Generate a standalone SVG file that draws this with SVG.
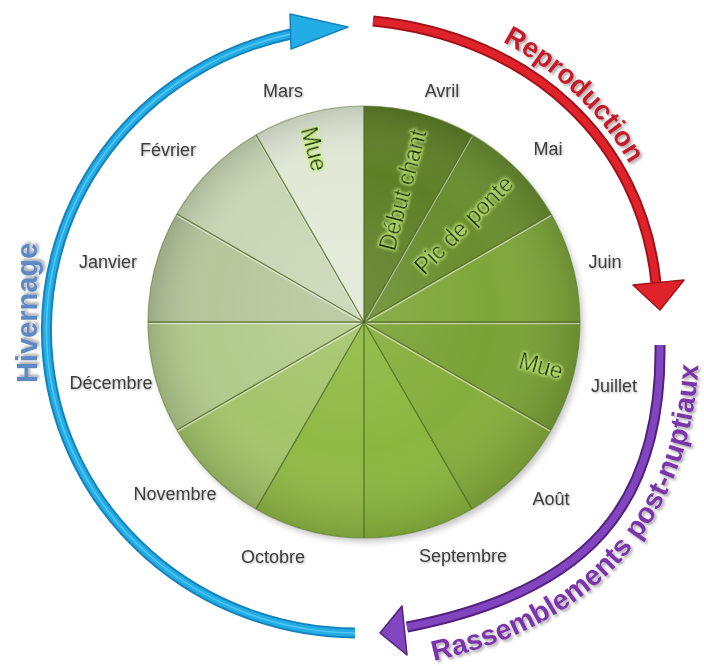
<svg xmlns="http://www.w3.org/2000/svg" width="704" height="666" viewBox="0 0 704 666">
<defs>
<style>
.month{font-family:"Liberation Sans",Arial,sans-serif;font-size:18px;fill:#3c3c3c;text-anchor:middle;filter:url(#ts)}
.inner{font-family:"Liberation Sans",Arial,sans-serif;font-size:23px;fill:#1d3505;text-anchor:middle;dominant-baseline:central;filter:url(#glow)}
.sep{stroke:#4a6620;stroke-width:1.4;stroke-opacity:.75}
.hl{stroke:#ffffff;stroke-width:1.6;stroke-opacity:.5}
.big{font-family:"Liberation Sans",Arial,sans-serif;font-weight:bold;filter:url(#ts2)}
.pur{font-size:28.5px;fill:#7a35aa}
.red{font-size:27.5px;fill:#c41f2a}
.shade{fill:url(#shade)}
.shaft{fill:none;stroke-linecap:butt}
</style>
<radialGradient id="shade" gradientUnits="userSpaceOnUse" cx="364" cy="322" r="216" fx="330" fy="290">
<stop offset="0" stop-color="#ffffff" stop-opacity="0.12"/>
<stop offset="0.65" stop-color="#ffffff" stop-opacity="0"/>
<stop offset="1" stop-color="#000000" stop-opacity="0.14"/>
</radialGradient>
<filter id="glow" x="-20%" y="-30%" width="140%" height="160%">
<feMorphology in="SourceAlpha" operator="dilate" radius="1.3" result="d"/>
<feGaussianBlur in="d" stdDeviation="1.6" result="b"/>
<feFlood flood-color="#c6ee7c" flood-opacity="0.95"/>
<feComposite in2="b" operator="in" result="g"/>
<feMerge><feMergeNode in="g"/><feMergeNode in="SourceGraphic"/></feMerge>
</filter>
<filter id="ts" x="-10%" y="-20%" width="130%" height="150%">
<feGaussianBlur in="SourceAlpha" stdDeviation="0.8"/>
<feOffset dx="1" dy="1" result="o"/>
<feFlood flood-color="#000" flood-opacity="0.3"/>
<feComposite in2="o" operator="in"/>
<feMerge><feMergeNode/><feMergeNode in="SourceGraphic"/></feMerge>
</filter>
<filter id="ts2" x="-15%" y="-15%" width="130%" height="130%">
<feGaussianBlur in="SourceAlpha" stdDeviation="1.6"/>
<feOffset dx="2" dy="2" result="o"/>
<feFlood flood-color="#000" flood-opacity="0.35"/>
<feComposite in2="o" operator="in"/>
<feMerge><feMergeNode/><feMergeNode in="SourceGraphic"/></feMerge>
</filter>
<filter id="pieShadow" x="-10%" y="-10%" width="120%" height="120%">
<feGaussianBlur stdDeviation="3"/>
</filter>
<path id="redText" d="M375,3 C537,20 654,141 667,282"/>
<path id="purpleText" d="M418,664 C603,630 701,510 699,335"/>
</defs>

<rect width="704" height="666" fill="#ffffff"/>

<circle cx="367" cy="326" r="216" fill="#000" opacity="0.22" filter="url(#pieShadow)"/>

<g id="wedge-avril">
<path d="M364,322 L364,106 A216,216 0 0 1 472,134.94 Z" fill="#5f7f27"/>
<path class="shade" d="M364,322 L364,106 A216,216 0 0 1 472,134.94 Z"/>
<text class="month" x="442" y="97">Avril</text>
</g>
<g id="wedge-mai">
<path d="M364,322 L472,134.94 A216,216 0 0 1 551.06,214 Z" fill="#6a8d2f"/>
<path class="shade" d="M364,322 L472,134.94 A216,216 0 0 1 551.06,214 Z"/>
<text class="month" x="548" y="155">Mai</text>
</g>
<g id="wedge-juin">
<path d="M364,322 L551.06,214 A216,216 0 0 1 580,322 Z" fill="#7fa63a"/>
<path class="shade" d="M364,322 L551.06,214 A216,216 0 0 1 580,322 Z"/>
<text class="month" x="605" y="268">Juin</text>
</g>
<g id="wedge-juillet">
<path d="M364,322 L580,322 A216,216 0 0 1 551.06,430 Z" fill="#7aa236"/>
<path class="shade" d="M364,322 L580,322 A216,216 0 0 1 551.06,430 Z"/>
<text class="month" x="614" y="392">Juillet</text>
</g>
<g id="wedge-aout">
<path d="M364,322 L551.06,430 A216,216 0 0 1 472,509.06 Z" fill="#86ae3c"/>
<path class="shade" d="M364,322 L551.06,430 A216,216 0 0 1 472,509.06 Z"/>
<text class="month" x="551" y="505">Août</text>
</g>
<g id="wedge-septembre">
<path d="M364,322 L472,509.06 A216,216 0 0 1 364,538 Z" fill="#8cb73f"/>
<path class="shade" d="M364,322 L472,509.06 A216,216 0 0 1 364,538 Z"/>
<text class="month" x="463" y="562">Septembre</text>
</g>
<g id="wedge-octobre">
<path d="M364,322 L364,538 A216,216 0 0 1 256,509.06 Z" fill="#91b945"/>
<path class="shade" d="M364,322 L364,538 A216,216 0 0 1 256,509.06 Z"/>
<text class="month" x="273" y="563">Octobre</text>
</g>
<g id="wedge-novembre">
<path d="M364,322 L256,509.06 A216,216 0 0 1 176.94,430 Z" fill="#a4c46a"/>
<path class="shade" d="M364,322 L256,509.06 A216,216 0 0 1 176.94,430 Z"/>
<text class="month" x="175" y="500">Novembre</text>
</g>
<g id="wedge-decembre">
<path d="M364,322 L176.94,430 A216,216 0 0 1 148,322 Z" fill="#b2ca8c"/>
<path class="shade" d="M364,322 L176.94,430 A216,216 0 0 1 148,322 Z"/>
<text class="month" x="111" y="389">Décembre</text>
</g>
<g id="wedge-janvier">
<path d="M364,322 L148,322 A216,216 0 0 1 176.94,214 Z" fill="#b5c69b"/>
<path class="shade" d="M364,322 L148,322 A216,216 0 0 1 176.94,214 Z"/>
<text class="month" x="108" y="268">Janvier</text>
</g>
<g id="wedge-fevrier">
<path d="M364,322 L176.94,214 A216,216 0 0 1 256,134.94 Z" fill="#c9d6b4"/>
<path class="shade" d="M364,322 L176.94,214 A216,216 0 0 1 256,134.94 Z"/>
<text class="month" x="168" y="156">Février</text>
</g>
<g id="wedge-mars">
<path d="M364,322 L256,134.94 A216,216 0 0 1 364,106 Z" fill="#e1e9d6"/>
<path class="shade" d="M364,322 L256,134.94 A216,216 0 0 1 364,106 Z"/>
<text class="month" x="283" y="97">Mars</text>
</g>

<g id="separators">
<g transform="translate(0,1.5)">
<line class="hl" x1="364" y1="322" x2="472" y2="134.94"/>
<line class="hl" x1="364" y1="322" x2="551.06" y2="214"/>
<line class="hl" x1="364" y1="322" x2="580" y2="322"/>
<line class="hl" x1="364" y1="322" x2="551.06" y2="430"/>
<line class="hl" x1="364" y1="322" x2="176.94" y2="430"/>
<line class="hl" x1="364" y1="322" x2="148" y2="322"/>
<line class="hl" x1="364" y1="322" x2="176.94" y2="214"/>
<line class="hl" x1="364" y1="322" x2="256" y2="134.94"/>
</g>
<line class="sep" x1="364" y1="322" x2="364" y2="106"/>
<line class="sep" x1="364" y1="322" x2="472" y2="134.94"/>
<line class="sep" x1="364" y1="322" x2="551.06" y2="214"/>
<line class="sep" x1="364" y1="322" x2="580" y2="322"/>
<line class="sep" x1="364" y1="322" x2="551.06" y2="430"/>
<line class="sep" x1="364" y1="322" x2="472" y2="509.06"/>
<line class="sep" x1="364" y1="322" x2="364" y2="538"/>
<line class="sep" x1="364" y1="322" x2="256" y2="509.06"/>
<line class="sep" x1="364" y1="322" x2="176.94" y2="430"/>
<line class="sep" x1="364" y1="322" x2="148" y2="322"/>
<line class="sep" x1="364" y1="322" x2="176.94" y2="214"/>
<line class="sep" x1="364" y1="322" x2="256" y2="134.94"/>
<circle cx="364" cy="322" r="216" fill="none" stroke="#5e7c34" stroke-opacity="0.55" stroke-width="1.2"/>
</g>

<g id="phase-labels">
<text class="inner" transform="translate(403,190) rotate(-75)">Début chant</text>
<text class="inner" transform="translate(464,225) rotate(-45)">Pic de ponte</text>
<text class="inner" transform="translate(314,149) rotate(75)">Mue</text>
<text class="inner" transform="translate(541,366) rotate(15)">Mue</text>
</g>

<g id="connectors">
<g id="arrow-hivernage">
<path class="shaft" d="M355,633 A311,303 0 0 1 291,34" stroke="#1483bc" stroke-width="11" stroke-linecap="round"/>
<path class="shaft" d="M355,633 A311,303 0 0 1 291,34" stroke="#22ade6" stroke-width="7" stroke-linecap="round"/>
<path class="shaft" d="M355,633 A311,303 0 0 1 291,34" stroke="#6fd2f4" stroke-width="1.5" stroke-opacity="0.7"/>
<polygon points="290,14 348,27 291,49" fill="#22ade6" stroke="#1483bc" stroke-width="1.5" stroke-linejoin="round"/>
</g>
<g id="arrow-reproduction">
<path class="shaft" d="M373,21 C533,37 642,143 656,283" stroke="#a3121a" stroke-width="11"/>
<path class="shaft" d="M373,21 C533,37 642,143 656,283" stroke="#e0232a" stroke-width="7"/>
<polygon points="633,285 684,280 660,310" fill="#e0232a" stroke="#a3121a" stroke-width="1.5" stroke-linejoin="round"/>
</g>
<g id="arrow-rassemblements">
<path class="shaft" d="M660,345 C662,505 588,592 407,627" stroke="#55207f" stroke-width="11"/>
<path class="shaft" d="M660,345 C662,505 588,592 407,627" stroke="#8245c0" stroke-width="7"/>
<polygon points="402,606 380,633 407,655" fill="#8245c0" stroke="#55207f" stroke-width="1.5" stroke-linejoin="round"/>
</g>
</g>

<g id="cycle-labels">
<text class="big red"><textPath href="#redText" startOffset="134">Reprod</textPath></text>
<text class="big red"><textPath href="#redText" startOffset="230.25">uction</textPath></text>
<text class="big pur"><textPath href="#purpleText" startOffset="16">Rassem</textPath></text>
<text class="big pur"><textPath href="#purpleText" startOffset="125.3">blements</textPath></text>
<text class="big pur"><textPath href="#purpleText" startOffset="258.3">post-</textPath></text>
<text class="big pur"><textPath href="#purpleText" startOffset="328">nuptiaux</textPath></text>
<text class="big" font-size="29" fill="#5d89c4" text-anchor="middle" transform="translate(37,313) rotate(-90)">Hivernage</text>
</g>
</svg>
